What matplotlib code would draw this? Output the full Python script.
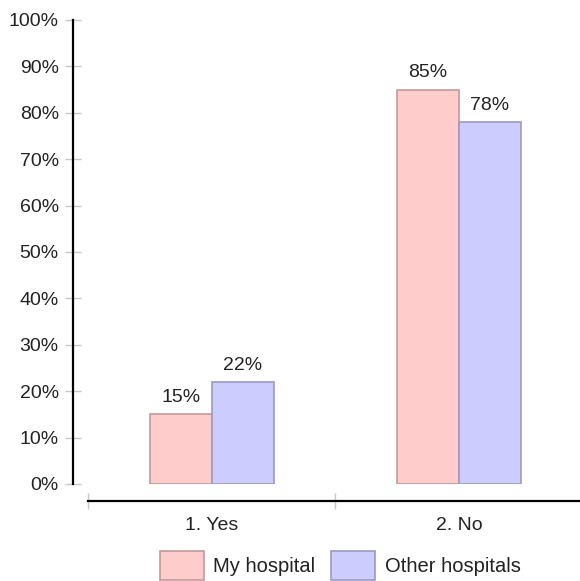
import matplotlib.pyplot as plt
import numpy as np

categories = ["1. Yes", "2. No"]
my_hospital = [15, 85]
other_hospitals = [22, 78]
series_names = ["My hospital", "Other hospitals"]


def main():
    plt.rcParams['font.family'] = ['Liberation Sans', 'DejaVu Sans']
    fig = plt.figure(figsize=(5.8, 5.81), dpi=100)
    ax = fig.add_axes([88 / 580, 1 - 484 / 581, 1 - 88 / 580, (484 - 20) / 581])

    x = np.arange(len(categories))
    w = 0.251
    b1 = ax.bar(x - w / 2, my_hospital, w, color="#ffcccc", edgecolor="#c09a9a",
                linewidth=1.2, label=series_names[0])
    b2 = ax.bar(x + w / 2, other_hospitals, w, color="#ccccff", edgecolor="#9a9ac4",
                linewidth=1.2, label=series_names[1])

    for bars, vals in ((b1, my_hospital), (b2, other_hospitals)):
        for r, v in zip(bars, vals):
            ax.annotate(f"{v}%", (r.get_x() + r.get_width() / 2, v),
                        xytext=(0, 6), textcoords="offset points",
                        ha="center", va="bottom", fontsize=14, color="#222222")

    ax.set_xlim(-0.5, 1.49)
    ax.set_ylim(0, 100)
    ax.set_yticks(range(0, 101, 10))
    ax.set_yticklabels([f"{t}%" for t in range(0, 101, 10)])
    ax.set_xticks(x)
    ax.set_xticklabels(categories)
    ax.set_xticks([-0.5, 0.5], minor=True)

    for s in ("top", "right"):
        ax.spines[s].set_visible(False)
    ax.spines["left"].set_position(("outward", 11))
    ax.spines["bottom"].set_position(("outward", 12))
    ax.spines["left"].set_linewidth(1.6)
    ax.spines["bottom"].set_linewidth(1.6)

    ax.tick_params(axis="y", direction="inout", length=12, width=1, color="#c8c8c8",
                   pad=4, labelsize=14, labelcolor="#222222")
    ax.tick_params(axis="x", which="major", length=0, pad=12, labelsize=14,
                   labelcolor="#222222")
    ax.tick_params(axis="x", which="minor", direction="inout", length=12, width=1,
                   color="#c8c8c8")

    fig.legend(handles=[b1, b2], loc="lower center", bbox_to_anchor=(340 / 580, -0.022),
               ncol=2, frameon=False, fontsize=14.5, handlelength=2.2, handleheight=1.8,
               handletextpad=0.45, columnspacing=0.8, borderpad=0.2,
               labelcolor="#222222")

    fig.savefig("out.png", dpi=100)


if __name__ == "__main__":
    main()
